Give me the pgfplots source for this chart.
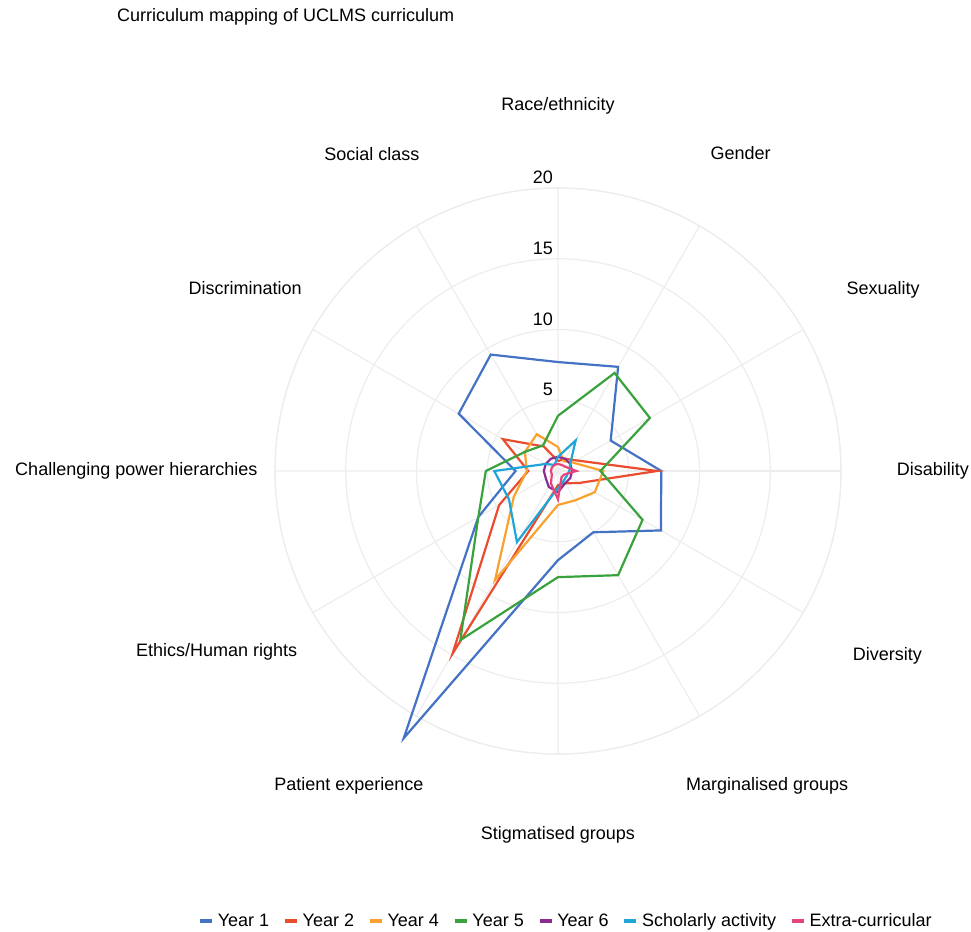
\documentclass[border=0pt]{standalone}
\usepackage{pgfplots}
\pgfplotsset{compat=1.18}
\usepackage{pgfplotstable}
\usepgfplotslibrary{polar}
\usepackage{fontspec}
\setmainfont{Liberation Sans}

\definecolor{cy1}{HTML}{4472C4}
\definecolor{cy2}{HTML}{EA4C2E}
\definecolor{cy4}{HTML}{F9A12E}
\definecolor{cy5}{HTML}{3AA23C}
\definecolor{cy6}{HTML}{8B2C92}
\definecolor{csch}{HTML}{1FA6D6}
\definecolor{cext}{HTML}{E4457C}
\definecolor{gridc}{HTML}{EDEDED}

% angle: Race/ethnicity at top, going clockwise
\pgfplotstableread{
ang   y1    y2    y4    y5    y6    sch   ext
90    7.7   0.7   1.7   3.9   1.0   1.0   0.5
60    8.5   1.0   0.8   8.0   1.0   2.5   0.5
30    4.3   1.5   1.2   7.5   1.0   1.0   0.6
0     7.3   7.0   3.2   3.0   1.0   0.8   1.3
-30   8.4   1.7   3.0   6.9   1.0   0.7   0.5
-60   5.0   1.0   2.4   8.5   1.0   0.8   0.5
-90   6.3   1.0   2.4   7.5   1.5   1.2   2.0
-120  21.8  14.9  8.9   13.8  1.3   5.8   1.0
-150  6.5   4.8   3.6   6.5   1.0   4.0   0.5
-180  3.0   2.1   2.2   5.1   1.0   4.5   0.5
-210  8.1   4.5   2.7   2.7   1.0   1.0   0.5
-240  9.5   2.0   3.0   2.1   1.0   0.5   0.5
-270  7.7   0.7   1.7   3.9   1.0   1.0   0.5
}\curmap

\begin{document}
\begin{tikzpicture}[font=\fontsize{18bp}{21bp}\selectfont]
\path[use as bounding box] (-558bp,-461bp) rectangle (413bp,471bp);
\begin{polaraxis}[
    at={(0,0)}, anchor=origin,
    width=566bp, height=566bp, scale only axis,
    xmin=0, xmax=360, ymin=0, ymax=20,
    xtick={0,30,...,330}, xticklabels={},
    ytick={5,10,15,20}, yticklabels={},
    grid=major,
    major grid style={draw=gridc, line width=1.2bp},
    axis line style={draw=gridc, line width=1.2bp},
    tick style={draw=none},
    clip=false,
    every axis plot/.append style={line width=2.2bp, no markers},
    legend columns=-1,
    legend style={draw=none, fill=none, at={(0.5124,-0.295)}, anchor=center,
        font=\fontsize{18bp}{21bp}\selectfont,
        nodes={inner sep=0pt},
        /tikz/every odd column/.append style={column sep=4bp},
        /tikz/every even column/.append style={column sep=14bp}},
    legend image code/.code={\draw[line width=3.5bp] (0bp,0bp) -- (12bp,0bp);},
]
\addplot[cy1]  table[x=ang, y=y1]  {\curmap};
\addplot[cy2]  table[x=ang, y=y2]  {\curmap};
\addplot[cy4]  table[x=ang, y=y4]  {\curmap};
\addplot[cy5]  table[x=ang, y=y5]  {\curmap};
\addplot[cy6]  table[x=ang, y=y6]  {\curmap};
\addplot[csch] table[x=ang, y=sch] {\curmap};
\addplot[cext] table[x=ang, y=ext] {\curmap};
\legend{Year 1, Year 2, Year 4, Year 5, Year 6, Scholarly activity\hspace{18bp}, Extra-curricular}

\node[anchor=south east, inner sep=0pt, xshift=-5bp, yshift=4bp] at (axis cs:90,5) {5};
\node[anchor=south east, inner sep=0pt, xshift=-5bp, yshift=4bp] at (axis cs:90,10) {10};
\node[anchor=south east, inner sep=0pt, xshift=-5bp, yshift=4bp] at (axis cs:90,15) {15};
\node[anchor=south east, inner sep=0pt, xshift=-5bp, yshift=4bp] at (axis cs:90,20) {20};

\node at (axis cs:90,25.8)   {Race/ethnicity};
\node at (axis cs:60.1,25.9) {Gender};
\node at (axis cs:29.1,26.3) {Sexuality};
\node at (axis cs:0,26.5)    {Disability};
\node at (axis cs:-29.3,26.7) {Diversity};
\node at (axis cs:-56.4,26.7) {Marginalised groups};
\node at (axis cs:-90,25.7)  {Stigmatised groups};
\node at (axis cs:-123.6,26.7) {Patient experience};
\node at (axis cs:-152.1,27.3) {Ethics/Human rights};
\node at (axis cs:180,29.8)  {Challenging power hierarchies};
\node at (axis cs:149.7,25.6) {Discrimination};
\node at (axis cs:120.4,26)  {Social class};
\end{polaraxis}
\node[anchor=west, inner sep=0pt] at (-441bp,454bp) {Curriculum mapping of UCLMS curriculum};
\end{tikzpicture}
\end{document}
